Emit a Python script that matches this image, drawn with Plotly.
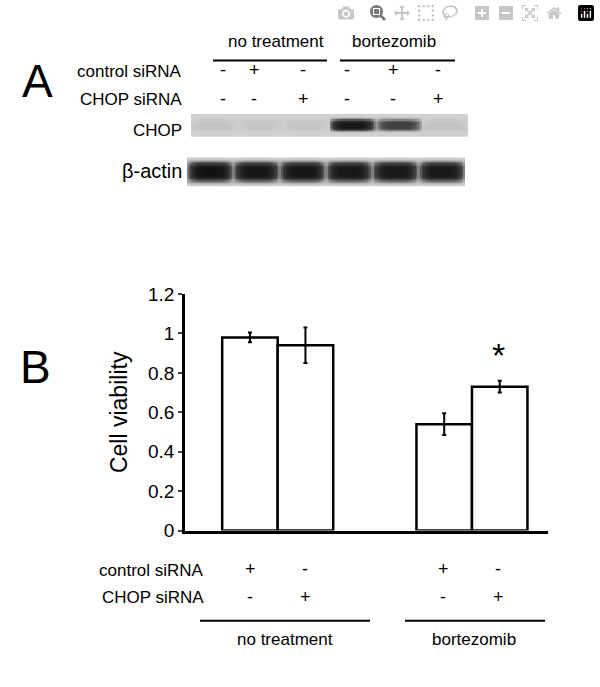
import numpy as np
import plotly.graph_objects as go

# panel B data
bar_pos = [1, 2, 4.5, 5.5]
viability = [0.98, 0.94, 0.54, 0.73]
viability_err = [0.025, 0.09, 0.055, 0.03]
control_sirna = ["+", "-", "+", "-"]
chop_sirna = ["-", "+", "-", "+"]
y_ticks = [0, 0.2, 0.4, 0.6, 0.8, 1, 1.2]

# panel A data (band intensity per lane)
blot_control = ["-", "+", "-", "-", "+", "-"]
blot_chop = ["-", "-", "+", "-", "-", "+"]
chop_band = [0.05, 0.04, 0.04, 0.95, 0.6, 0.05]
actin_band = [1.0, 0.97, 0.97, 0.95, 0.95, 0.95]

W, H = 600, 687
FONT = "Liberation Sans, Arial, sans-serif"


def px(x):
    return x / W


def py(y):
    return 1 - y / H


def blot(intensity, height_rows, sigma):
    cols_per_lane = 30
    u = (np.arange(cols_per_lane) + 0.5) / cols_per_lane
    horiz = np.clip(1 - np.abs(u - 0.5) ** 4 * 12, 0, 1)
    v = np.arange(height_rows) - (height_rows - 1) / 2
    vert = np.exp(-(v / sigma) ** 4)
    z = np.zeros((height_rows, cols_per_lane * len(intensity)))
    for i, a in enumerate(intensity):
        z[:, i * cols_per_lane:(i + 1) * cols_per_lane] = np.outer(vert, horiz) * a
    return 0.1 + 0.9 * z


fig = go.Figure()

fig.add_trace(go.Bar(
    x=bar_pos, y=viability, width=1,
    marker=dict(color="white", line=dict(color="black", width=2.5)),
    error_y=dict(type="data", array=viability_err, color="black", thickness=2, width=2),
    xaxis="x", yaxis="y", showlegend=False,
))

gray = [[0, "#dcdcdc"], [0.1, "#d0d0d0"], [0.6, "#444444"], [1, "#111111"]]
fig.add_trace(go.Heatmap(z=blot(chop_band, 20, 5), colorscale=gray, zmin=0, zmax=1,
                         showscale=False, xaxis="x2", yaxis="y2", hoverinfo="skip"))
fig.add_trace(go.Heatmap(z=blot(actin_band, 24, 8), colorscale=gray, zmin=0, zmax=1,
                         showscale=False, xaxis="x3", yaxis="y3", hoverinfo="skip"))

hidden = dict(visible=False, fixedrange=True)
fig.update_layout(
    width=W, height=H, margin=dict(l=0, r=0, t=0, b=0),
    paper_bgcolor="white", plot_bgcolor="white",
    font=dict(family=FONT, color="black"),
    xaxis=dict(domain=[px(185), px(548)], range=[-0.17, 6.37], showticklabels=False,
               showline=True, linecolor="black", linewidth=2.5, ticks="", showgrid=False,
               zeroline=False),
    yaxis=dict(domain=[py(537), py(293)], range=[0, 1.2], tickvals=y_ticks,
               ticktext=[str(t) for t in y_ticks], ticks="outside", ticklen=4,
               tickwidth=2, showline=True, linecolor="black", linewidth=2.5,
               showgrid=False, zeroline=False, tickfont=dict(size=19),
               title=dict(text="Cell viability", font=dict(size=23), standoff=14)),
    xaxis2=dict(domain=[px(191), px(468)], **hidden),
    yaxis2=dict(domain=[py(131), py(107)], **hidden),
    xaxis3=dict(domain=[px(187), px(465)], **hidden),
    yaxis3=dict(domain=[py(182), py(152)], **hidden),
)

ann = []


def text(x, y, s, size=17, anchor="center"):
    ann.append(dict(x=px(x), y=py(y), xref="paper", yref="paper", text=s, showarrow=False,
                    xanchor=anchor, yanchor="middle", font=dict(size=size, family=FONT)))


def hline(x0, x1, y):
    fig.add_shape(type="line", xref="paper", yref="paper", x0=px(x0), x1=px(x1),
                  y0=py(y), y1=py(y), line=dict(color="black", width=2))


# panel A
text(37, 73, "A", 46)
text(276, 33, "no treatment")
text(394, 33, "bortezomib")
hline(213, 327, 52)
hline(340, 455, 52)
text(184, 63, "control siRNA", anchor="right")
text(184, 92, "CHOP siRNA", anchor="right")
text(184, 124, "CHOP", anchor="right")
text(184, 166, "β-actin", 20, anchor="right")
lanes = [223, 254, 303, 347, 393, 438]
for lx, c, h in zip(lanes, blot_control, blot_chop):
    text(lx, 62, c, 18)
    text(lx, 92, h, 18)

# panel B
text(35, 368, "B", 46)
text(498, 356, "*", 34)
text(206, 578, "control siRNA", anchor="right")
text(206, 606, "CHOP siRNA", anchor="right")
bar_px = [250, 305, 443, 498]
for bx, c, h in zip(bar_px, control_sirna, chop_sirna):
    text(bx, 577, c, 18)
    text(bx, 605, h, 18)
hline(200, 370, 630)
hline(405, 545, 630)
text(285, 649, "no treatment")
text(474, 649, "bortezomib")

fig.update_layout(annotations=ann)
fig.write_html("out.html",
               post_script="document.body.style.margin='0';document.body.style.overflow='hidden';")
